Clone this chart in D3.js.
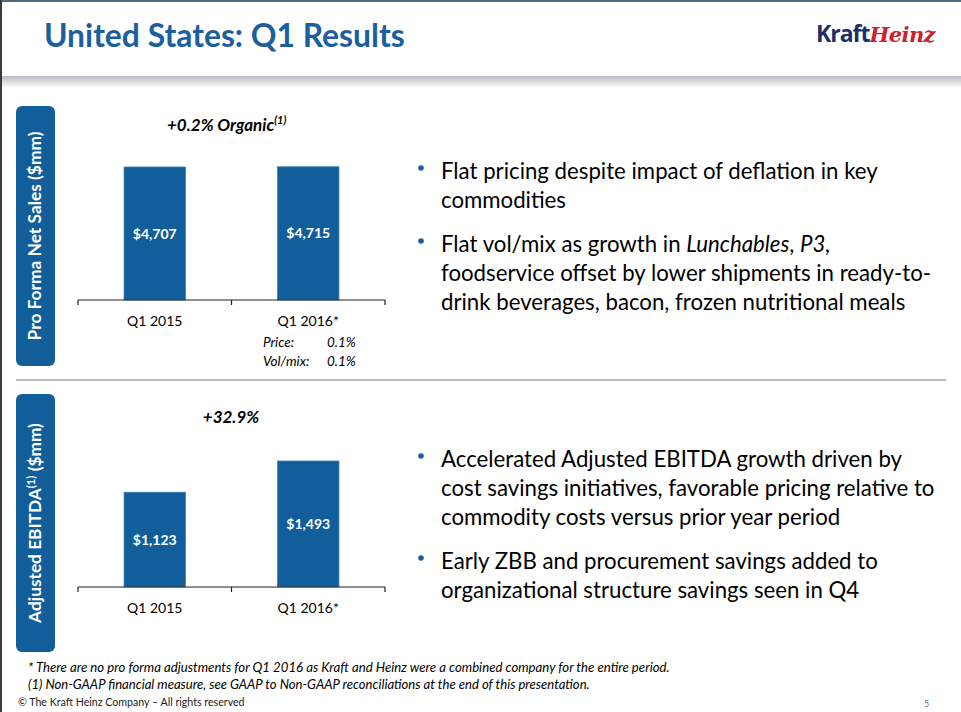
<!DOCTYPE html>
<html><head><meta charset="utf-8">
<script src="https://cdn.jsdelivr.net/npm/d3@7"></script>
<style>body{margin:0;background:#fff}svg{display:block}</style>
</head><body>
<script>
// ---------- DATA ----------
const categories = ["Q1 2015", "Q1 2016*"];
const salesValues = [4707, 4715];
const ebitdaValues = [1123, 1493];
const salesGrowth = "+0.2% Organic";
const ebitdaGrowth = "+32.9%";
const priceRows = [["Price:", "0.1%"], ["Vol/mix:", "0.1%"]];
const titleText = "United States: Q1 Results";
const salesPanelLabel = "Pro Forma Net Sales ($mm)";
const topBullets = [
  [[["Flat pricing despite impact of deflation in key", false]], [["commodities", false]]],
  [[["Flat vol/mix as growth in ", false], ["Lunchables", true], [", ", false], ["P3,", true]],
   [["foodservice offset by lower shipments in ready-to-", false]],
   [["drink beverages, bacon, frozen nutritional meals", false]]]
];
const bottomBullets = [
  [[["Accelerated Adjusted EBITDA growth driven by", false]],
   [["cost savings initiatives, favorable pricing relative to", false]],
   [["commodity costs versus prior year period", false]]],
  [[["Early ZBB and procurement savings added to", false]],
   [["organizational structure savings seen in Q4", false]]]
];
const footnotes = [
  "* There are no pro forma adjustments for Q1 2016 as Kraft and Heinz were a combined company for the entire period.",
  "(1) Non-GAAP financial measure, see GAAP to Non-GAAP reconciliations at the end of this presentation."
];
const copyright = "© The Kraft Heinz Company – All rights reserved";
const pageNumber = "5";

// ---------- STYLE ----------
const W = 961, H = 712;
const BLUE = "#115e9b";
const TITLE_BLUE = "#1c5f9f";
const FONT = "Lato, 'Open Sans', sans-serif";

const svg = d3.select("body").append("svg").attr("width", W).attr("height", H);
const defs = svg.append("defs");
const g1 = defs.append("linearGradient").attr("id", "shadow").attr("x1", 0).attr("x2", 0).attr("y1", 0).attr("y2", 1);
g1.append("stop").attr("offset", "0%").attr("stop-color", "#b9bec3");
g1.append("stop").attr("offset", "100%").attr("stop-color", "#ffffff");

function fit(sel, target) {
  const w = sel.node().getComputedTextLength();
  const fs = parseFloat(sel.attr("font-size"));
  sel.attr("font-size", fs * target / w);
  return fs * target / w;
}

// frame
svg.append("rect").attr("x", 0).attr("y", 76).attr("width", W).attr("height", 12).attr("fill", "url(#shadow)");
svg.append("rect").attr("x", 0).attr("y", 0).attr("width", W).attr("height", 2).attr("fill", "#4f6a7e");
svg.append("rect").attr("x", 0).attr("y", 0).attr("width", 2).attr("height", H).attr("fill", "#3a3a3a");

// title
const title = svg.append("text").attr("x", 44).attr("y", 47).attr("font-family", FONT)
  .attr("font-weight", 700).attr("font-size", 30).attr("fill", TITLE_BLUE).text(titleText);
fit(title, 361);

// logo
const logo = svg.append("text").attr("x", 816).attr("y", 42);
logo.append("tspan").attr("font-family", "'Open Sans', sans-serif").attr("font-weight", 700)
  .attr("font-size", 23).attr("fill", "#1d2f6a").attr("letter-spacing", -1).text("Kraft");
logo.append("tspan").attr("font-family", "'DejaVu Serif', serif").attr("font-weight", 700).attr("font-style", "italic")
  .attr("font-size", 21).attr("fill", "#cf2030").attr("letter-spacing", -0.6).text("Heinz");

// separator
svg.append("line").attr("x1", 16).attr("x2", 946).attr("y1", 380).attr("y2", 380)
  .attr("stroke", "#a6a6a6").attr("stroke-width", 1.5);

// side label boxes
function sideBox(y0, y1, build, len) {
  svg.append("rect").attr("x", 16).attr("y", y0).attr("width", 39).attr("height", y1 - y0)
    .attr("rx", 6).attr("fill", BLUE);
  const t = svg.append("text").attr("transform", `translate(41,${(y0 + y1) / 2}) rotate(-90)`)
    .attr("text-anchor", "middle").attr("font-family", FONT).attr("font-weight", 700)
    .attr("font-size", 16).attr("fill", "#fff");
  build(t);
  fit(t, len);
}
sideBox(106, 366, t => t.text(salesPanelLabel), 209);
sideBox(394, 652, t => {
  t.append("tspan").text("Adjusted EBITDA");
  t.append("tspan").attr("font-size", "0.65em").attr("dy", -6).text("(1)");
  t.append("tspan").attr("dy", 6).text(" ($mm)");
}, 200);

// ---------- BAR CHARTS ----------
const x = d3.scaleBand().domain(categories).range([78, 385]).paddingInner(0.6).paddingOuter(0.3);
const fmt = d3.format("$,");

function barChart(values, y, labelY) {
  const g = svg.append("g");
  g.selectAll("rect.bar").data(values).join("rect").attr("class", "bar")
    .attr("x", (d, i) => x(categories[i])).attr("width", x.bandwidth())
    .attr("y", d => y(d)).attr("height", d => y(0) - y(d))
    .attr("fill", BLUE).attr("stroke", "#3d7fb5").attr("stroke-width", 0.8);
  g.selectAll("text.val").data(values).join("text").attr("class", "val")
    .attr("x", (d, i) => x(categories[i]) + x.bandwidth() / 2)
    .attr("y", d => (y(d) + y(0)) / 2 + 5)
    .attr("text-anchor", "middle").attr("font-family", FONT).attr("font-weight", 700)
    .attr("font-size", 14).attr("fill", "#fff").text(d => fmt(d));
  const axis = d3.axisBottom(x).tickSize(0).tickPadding(0);
  const ag = g.append("g").attr("transform", `translate(0,${y(0)})`).call(axis);
  ag.select(".domain").remove();
  ag.selectAll("text").attr("y", labelY - y(0)).attr("dy", 0).attr("font-family", FONT)
    .attr("font-size", 14).attr("fill", "#000");
  const r = x.range();
  ag.append("line").attr("x1", r[0]).attr("x2", r[1]).attr("y1", 0).attr("y2", 0)
    .attr("stroke", "#222").attr("stroke-width", 1.2);
  const ticks = d3.range(categories.length + 1).map(i => r[0] + i * x.step());
  ag.selectAll("line.tk").data(ticks).join("line").attr("class", "tk")
    .attr("x1", d => Math.min(d, r[1])).attr("x2", d => Math.min(d, r[1]))
    .attr("y1", 0).attr("y2", 5).attr("stroke", "#222").attr("stroke-width", 1.2);
  return g;
}

const ySales = d3.scaleLinear().domain([0, 4955]).range([300, 160]);
barChart(salesValues, ySales, 326);
const yEbitda = d3.scaleLinear().domain([0, 1659]).range([587, 447]);
barChart(ebitdaValues, yEbitda, 613);

// growth annotations
const ga = svg.append("text").attr("x", 167).attr("y", 131).attr("font-family", FONT)
  .attr("font-weight", 700).attr("font-style", "italic").attr("font-size", 17).attr("fill", "#000");
ga.append("tspan").text(salesGrowth);
ga.append("tspan").attr("font-size", 11).attr("dy", -7).text("(1)");
svg.append("text").attr("x", 231).attr("y", 423).attr("text-anchor", "middle").attr("font-family", FONT)
  .attr("font-weight", 700).attr("font-style", "italic").attr("font-size", 17).attr("fill", "#000").text(ebitdaGrowth);

priceRows.forEach((r, i) => {
  svg.append("text").attr("x", 263).attr("y", 347 + i * 18.5).attr("font-family", FONT)
    .attr("font-style", "italic").attr("font-size", 13.5).attr("fill", "#000").text(r[0]);
  svg.append("text").attr("x", 327).attr("y", 347 + i * 18.5).attr("font-family", FONT)
    .attr("font-style", "italic").attr("font-size", 13.5).attr("fill", "#000").text(r[1]);
});

// ---------- BULLETS ----------
const probe = svg.append("text").attr("font-family", FONT).attr("font-size", 20)
  .text("Flat pricing despite impact of deflation in key");
const bfs = fit(probe, 437);
probe.remove();

function bullets(groups, baselines) {
  let k = 0;
  groups.forEach(lines => {
    const by = baselines[k];
    svg.append("circle").attr("cx", 421).attr("cy", by - 11).attr("r", 2.8).attr("fill", TITLE_BLUE);
    lines.forEach(segs => {
      const t = svg.append("text").attr("x", 441).attr("y", baselines[k]).attr("font-family", FONT)
        .attr("font-size", bfs).attr("fill", "#000");
      segs.forEach(s => t.append("tspan").attr("font-style", s[1] ? "italic" : "normal").text(s[0]));
      k++;
    });
  });
}
bullets(topBullets, [179, 208, 252, 281, 310]);
bullets(bottomBullets, [467, 496, 525, 569, 598]);

// ---------- FOOTER ----------
footnotes.forEach((f, i) => {
  const t = svg.append("text").attr("x", 28).attr("y", 672 + i * 17).attr("font-family", FONT)
    .attr("font-style", "italic").attr("font-size", 12).attr("fill", "#000").text(f);
  fit(t, i === 0 ? 642 : 562);
});
const cp = svg.append("text").attr("x", 18).attr("y", 706).attr("font-family", FONT)
  .attr("font-size", 9).attr("fill", "#222").text(copyright);
fit(cp, 227);
svg.append("text").attr("x", 924).attr("y", 707).attr("font-family", FONT)
  .attr("font-size", 9).attr("fill", "#5a78a8").text(pageNumber);
</script>
</body></html>
